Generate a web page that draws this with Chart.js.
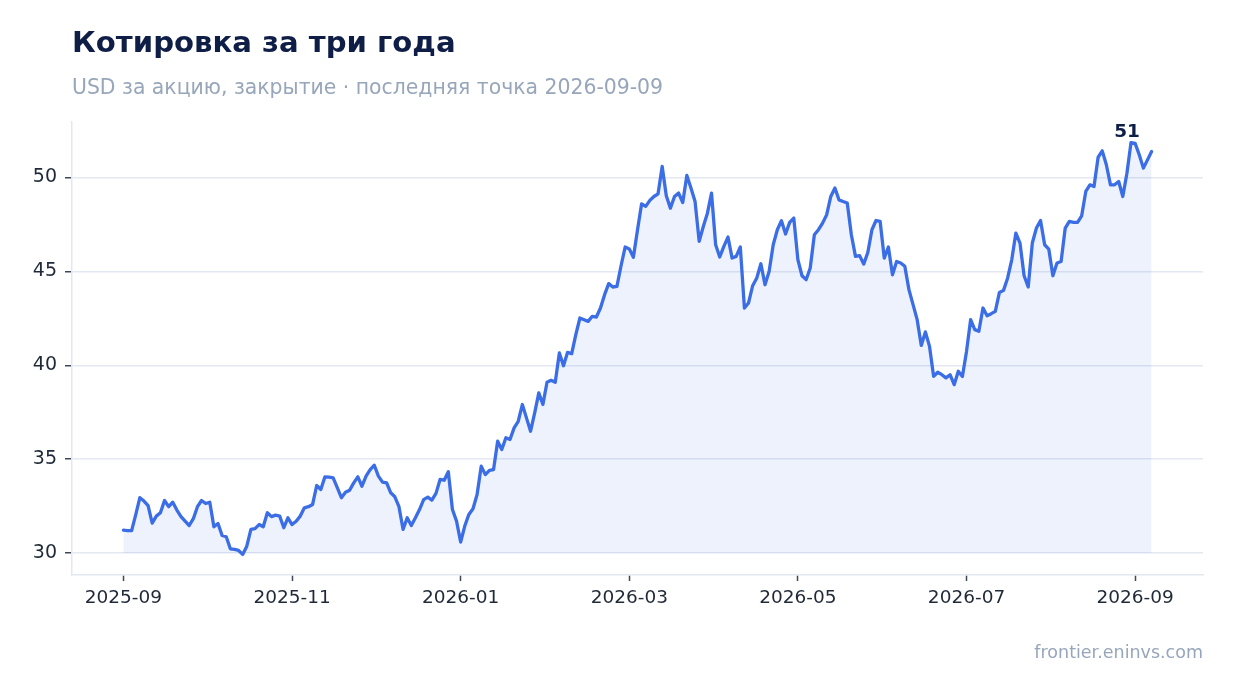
<!DOCTYPE html>
<html>
<head>
<meta charset="utf-8">
<script src="https://cdn.jsdelivr.net/npm/chart.js@4.4.1/dist/chart.umd.min.js"></script>
<style>
  html, body { margin: 0; padding: 0; background: #ffffff; }
  body { width: 1234px; height: 693px; position: relative; overflow: hidden; font-family: "DejaVu Sans", sans-serif; }
  #title { position: absolute; left: 72px; top: 27.8px; font-size: 29.15px; line-height: 29px; font-weight: bold; color: #0f1e46; white-space: nowrap; }
  #subtitle { position: absolute; left: 72px; top: 77.4px; font-size: 20.4px; line-height: 20px; color: #97a6ba; white-space: nowrap; }
  #footer { position: absolute; right: 31px; top: 643.5px; font-size: 17.5px; line-height: 17.5px; color: #97a6ba; white-space: nowrap; }
  #wrap { position: absolute; left: 0; top: 0; width: 1234px; height: 693px; }
</style>
</head>
<body>
<div id="wrap"><canvas id="c" width="1234" height="693"></canvas></div>
<div id="title">Котировка за три года</div>
<div id="subtitle">USD за акцию, закрытие · последняя точка 2026-09-09</div>
<div id="footer">frontier.eninvs.com</div>
<script>
// Closing prices, in order, one per observation (2025-09-01 … 2026-09-09)
const closes = [
  31.22, 31.20, 31.20, 32.05, 32.95, 32.77, 32.53, 31.60, 31.97, 32.15,
  32.80, 32.47, 32.71, 32.29, 31.94, 31.70, 31.47, 31.83, 32.47, 32.80,
  32.64, 32.71, 31.40, 31.58, 30.94, 30.87, 30.23, 30.20, 30.14, 29.93,
  30.37, 31.26, 31.30, 31.52, 31.40, 32.15, 31.94, 32.02, 31.97, 31.35,
  31.88, 31.52,
  31.70, 31.97, 32.41, 32.47, 32.59, 33.60, 33.39, 34.06, 34.04, 34.01,
  33.48, 32.95, 33.24, 33.35, 33.74, 34.06, 33.56, 34.10, 34.45, 34.68,
  34.10, 33.78, 33.74, 33.21, 33.00, 32.47, 31.26, 31.88, 31.47, 31.88,
  32.32, 32.85, 32.98, 32.82, 33.18, 33.92, 33.88, 34.33, 32.32, 31.70,
  30.59,
  31.44, 32.06, 32.36, 33.12, 34.63, 34.18, 34.41, 34.45, 35.96, 35.52,
  36.14, 36.05, 36.67, 37.02, 37.91, 37.20, 36.49, 37.47, 38.53, 37.91,
  39.10, 39.20, 39.10, 40.66, 39.98, 40.69, 40.62, 41.63, 42.52, 42.43,
  42.34, 42.61, 42.57, 43.05, 43.76, 44.35, 44.17, 44.20, 45.30, 46.30,
  46.20,
  45.75, 47.20, 48.60, 48.46, 48.78, 48.99, 49.13, 50.59, 49.03, 48.37,
  48.99, 49.17, 48.67, 50.11, 49.44, 48.72, 46.60, 47.39, 48.10, 49.17,
  46.42, 45.77, 46.33, 46.83, 45.71, 45.80, 46.30, 43.05, 43.32, 44.24,
  44.65, 45.41, 44.29, 45.00, 46.42, 47.22, 47.70, 46.99, 47.61, 47.84,
  45.62,
  44.77, 44.56, 45.18, 46.95, 47.22, 47.57, 48.02, 48.99, 49.44, 48.81,
  48.72, 48.64, 46.95, 45.80, 45.84, 45.39, 46.01, 47.22, 47.71, 47.66,
  45.71, 46.30, 44.82, 45.53, 45.45, 45.27, 44.03, 43.23, 42.43, 41.06,
  41.78, 41.01, 39.41, 39.63, 39.50, 39.33, 39.50, 38.97, 39.68, 39.40,
  40.74,
  42.43, 41.90, 41.81, 43.05, 42.64, 42.75, 42.87, 43.88, 43.99, 44.65,
  45.62, 47.04, 46.51, 44.77, 44.17, 46.51, 47.31, 47.71, 46.42, 46.19,
  44.77, 45.45, 45.53, 47.31, 47.66, 47.61, 47.61, 47.96, 49.26, 49.61,
  49.52, 51.08, 51.42, 50.68, 49.61, 49.61, 49.79, 48.99, 50.23, 51.86,
  51.82,
  51.21, 50.50, 50.94, 51.39
];

// x-axis tick labels and the observation index where each one falls
const tickLabels = ['2025-09', '2025-11', '2026-01', '2026-03', '2026-05', '2026-07', '2026-09'];
const tickIndex  = [0, 41, 82, 123, 164, 205, 246];

// y-axis ticks
const yTicks = [30, 35, 40, 45, 50];

const points = closes.map((v, i) => ({ x: i, y: v }));
const lo = Math.min(...closes), hi = Math.max(...closes);
const pad = (hi - lo) * 0.05;
const maxIdx = closes.indexOf(hi);
const xPad = (closes.length - 1) * 0.05;

const FONT = '"DejaVu Sans", sans-serif';
const LINE = '#3b6de6';

const peakLabel = {
  id: 'peakLabel',
  afterDatasetsDraw(chart) {
    const el = chart.getDatasetMeta(0).data[maxIdx];
    if (!el) return;
    const ctx = chart.ctx;
    ctx.save();
    ctx.font = 'bold 18.5px ' + FONT;
    ctx.fillStyle = '#0f1e46';
    ctx.textAlign = 'center';
    ctx.textBaseline = 'alphabetic';
    ctx.fillText(String(Math.floor(hi)), el.x - 4, el.y - 6);
    ctx.restore();
  }
};

new Chart(document.getElementById('c'), {
  type: 'line',
  data: {
    datasets: [{
      data: points,
      borderColor: LINE,
      borderWidth: 3.3,
      borderJoinStyle: 'round',
      borderCapStyle: 'round',
      backgroundColor: 'rgba(59,109,230,0.09)',
      fill: { value: yTicks[0] },
      pointRadius: 0,
      pointHoverRadius: 0,
      tension: 0
    }]
  },
  options: {
    responsive: false,
    animation: false,
    devicePixelRatio: 1,
    layout: { padding: { top: 122, right: 31, bottom: 78, left: 0 } },
    plugins: { legend: { display: false }, tooltip: { enabled: false }, title: { display: false } },
    scales: {
      x: {
        type: 'linear',
        min: -xPad,
        max: closes.length - 1 + xPad,
        afterBuildTicks(scale) { scale.ticks = tickIndex.map(v => ({ value: v })); },
        afterFit(scale) { scale.height = 40; },
        ticks: {
          callback: (v) => { const k = tickIndex.indexOf(v); return k >= 0 ? tickLabels[k] : ''; },
          font: { family: FONT, size: 18.5 },
          color: '#1f2937',
          padding: 6,
          maxRotation: 0,
          autoSkip: false
        },
        grid: { drawOnChartArea: false, drawTicks: true, tickLength: 6, tickColor: '#3f4756', tickWidth: 1.5 },
        border: { display: true, color: '#e2e7f0', width: 1.5 }
      },
      y: {
        min: lo - pad,
        max: hi + pad,
        afterBuildTicks(scale) { scale.ticks = yTicks.map(v => ({ value: v })); },
        afterFit(scale) { scale.width = 72; },
        ticks: {
          font: { family: FONT, size: 19 },
          color: '#1f2937',
          padding: 8
        },
        grid: { color: '#e4e8f1', lineWidth: 1.5, tickLength: 7, tickColor: '#3f4756', tickWidth: 1.5 },
        border: { display: true, color: '#e2e7f0', width: 1.5 }
      }
    }
  },
  plugins: [peakLabel]
});
</script>
</body>
</html>
